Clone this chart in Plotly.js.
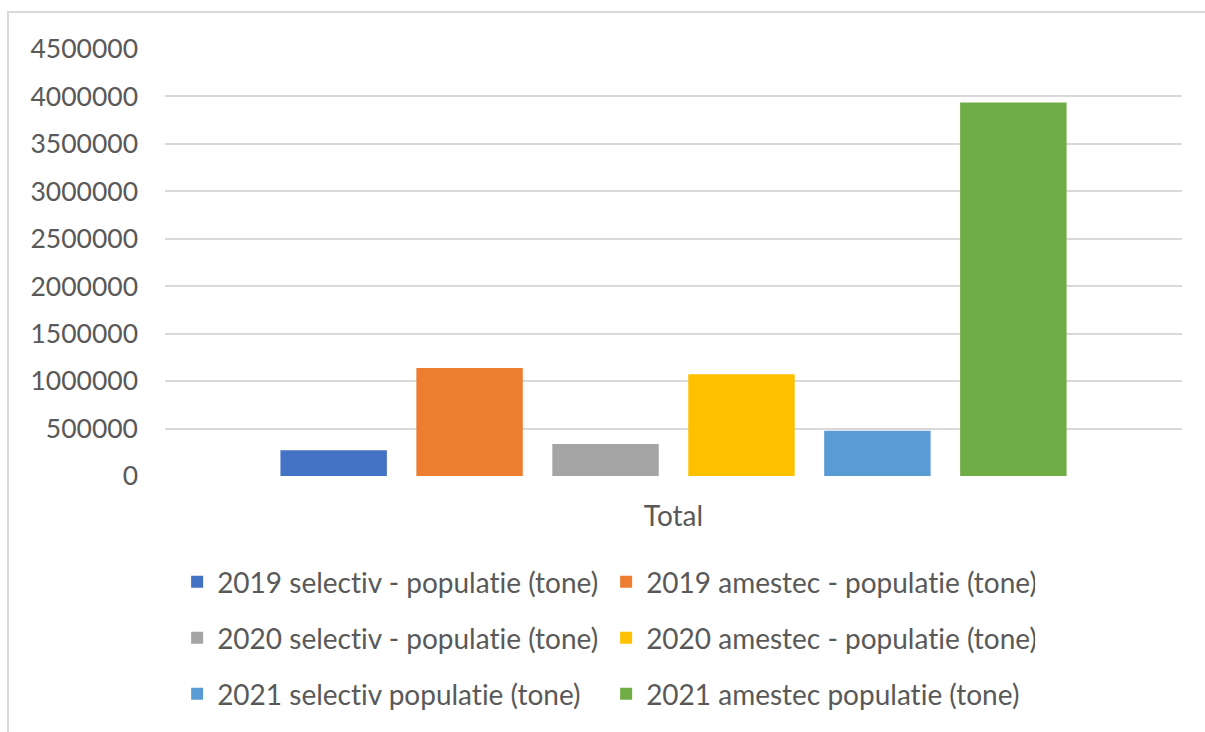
<!DOCTYPE html>
<html>
<head>
<meta charset="utf-8">
<script src="https://cdn.plot.ly/plotly-3.0.1.min.js"></script>
<style>
  html, body { margin: 0; padding: 0; background: #ffffff; }
  #wrap { position: relative; width: 1205px; height: 732px; overflow: hidden; }
  #chart { position: absolute; left: 0; top: 0; width: 1205px; height: 732px; }
  #chart text { font-variant-ligatures: none; font-feature-settings: "liga" 0, "clig" 0; }
  #frame { position: absolute; left: 7px; top: 11px; width: 1200px; height: 740px;
           border: 2px solid #d9d9d9; box-sizing: border-box; pointer-events: none; }
</style>
</head>
<body>
<div id="wrap">
  <div id="chart"></div>
  <div id="frame"></div>
</div>
<script>
const categories = ['Total'];
const seriesNames = [
  '2019 selectiv - populatie (tone)',
  '2019 amestec - populatie (tone)',
  '2020 selectiv - populatie (tone)',
  '2020 amestec - populatie (tone)',
  '2021 selectiv populatie (tone)',
  '2021 amestec populatie (tone)'
];
const seriesValues = [271000, 1138000, 337000, 1072000, 478000, 3935000];
const seriesColors = ['#4472C4', '#ED7D31', '#A5A5A5', '#FFC000', '#5B9BD5', '#70AD47'];
const yTickValues = [0, 500000, 1000000, 1500000, 2000000, 2500000, 3000000, 3500000, 4000000, 4500000];
const legendIds = ['legend', 'legend', 'legend2', 'legend2', 'legend3', 'legend3'];

const FONT = 'Lato, "Open Sans", sans-serif';
const TXT = '#595959';

const traces = seriesNames.map((name, i) => ({
  type: 'bar',
  name: name,
  x: categories,
  y: [seriesValues[i]],
  marker: { color: seriesColors[i], line: { width: 0 } },
  legend: legendIds[i],
  hoverinfo: 'name+y'
}));

const legendBase = {
  orientation: 'h',
  xref: 'container',
  yref: 'container',
  x: 0.147,
  xanchor: 'left',
  yanchor: 'middle',
  entrywidth: 384,
  entrywidthmode: 'pixels',
  itemwidth: 30,
  font: { family: FONT, size: 28, color: TXT },
  bgcolor: 'rgba(0,0,0,0)',
  traceorder: 'normal'
};

const layout = {
  width: 1205,
  height: 732,
  paper_bgcolor: '#ffffff',
  plot_bgcolor: '#ffffff',
  margin: { l: 165, r: 23, t: 49, b: 256 },
  barmode: 'group',
  bargap: 0.198,
  bargroupgap: 0.217,
  font: { family: FONT, size: 24, color: TXT },
  xaxis: {
    type: 'category',
    showgrid: false,
    zeroline: false,
    showline: false,
    ticks: '',
    ticklabelstandoff: 21,
    tickfont: { family: FONT, size: 28, color: TXT }
  },
  yaxis: {
    range: [0, 4500000],
    tickvals: yTickValues,
    ticktext: yTickValues.map(v => String(v)),
    showgrid: true,
    gridcolor: '#d9d9d9',
    gridwidth: 2,
    zeroline: false,
    showline: false,
    ticks: '',
    ticklabelstandoff: 26,
    tickfont: { family: FONT, size: 26.5, color: TXT }
  },
  showlegend: true,
  legend: Object.assign({}, legendBase, { y: 1 - 582 / 732 }),
  legend2: Object.assign({}, legendBase, { y: 1 - 638 / 732 }),
  legend3: Object.assign({}, legendBase, { y: 1 - 694 / 732 })
};

Plotly.newPlot('chart', traces, layout, { displayModeBar: false, staticPlot: true });
</script>
</body>
</html>
